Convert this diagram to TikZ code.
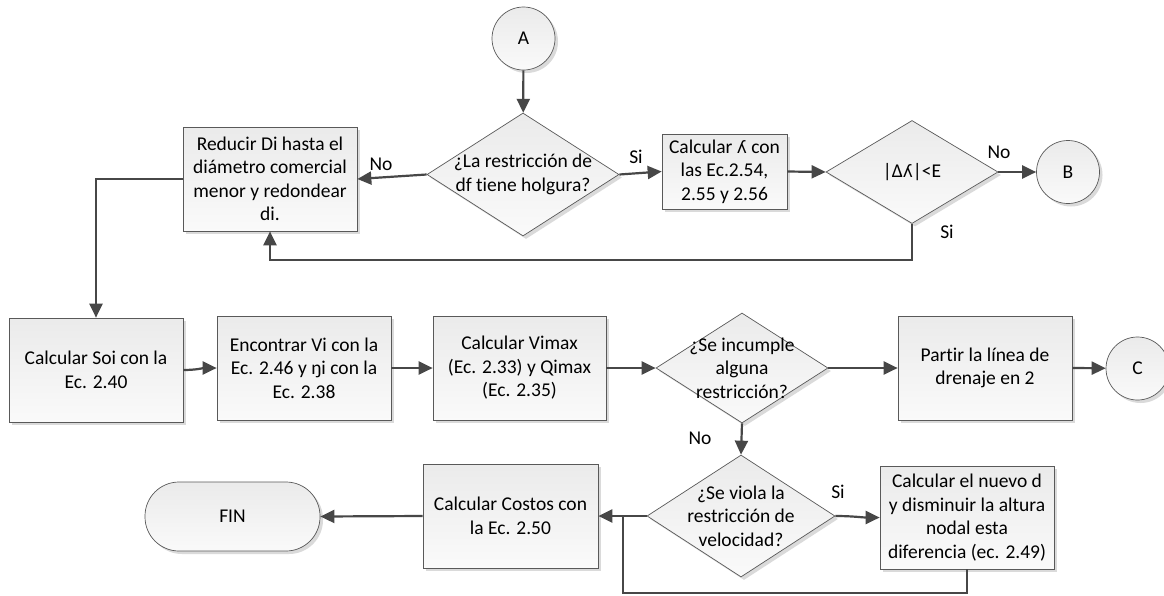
\documentclass[tikz,border=0pt]{standalone}
\usepackage{fontspec}
\setmainfont[Ligatures=NoCommon]{Carlito}
\newfontfamily\ipafont{DejaVu Sans}
\usetikzlibrary{shapes.geometric,arrows.meta,shadows}

\tikzset{
  txt/.style={font=\fontsize{19.5}{23.5}\selectfont, align=center},
  shaded/.style={draw=black!65, line width=0.7pt, top color=black!8, bottom color=black!2,
    drop shadow={shadow xshift=3pt, shadow yshift=-3pt, fill=black!18, opacity=0.8}},
  stepbox/.style={shaded, txt, rectangle, inner sep=2pt},
  decision/.style={shaded, diamond, inner sep=0pt},
  dlabel/.style={txt, inner sep=0pt},
  connector/.style={shaded, circle, txt, minimum size=63pt, inner sep=0pt},
  endcap/.style={shaded, txt, rectangle, rounded corners=34pt, inner sep=0pt},
  flow/.style={draw=black!72, line width=2.2pt, -{Triangle[length=14pt,width=13pt]}},
  plain/.style={draw=black!72, line width=2.2pt},
  yn/.style={txt, inner sep=0pt},
}

\begin{document}
\begin{tikzpicture}[x=1pt,y=-1pt]
\useasboundingbox (0,0) rectangle (1164,595);
\fill[white] (0,0) rectangle (1164,595);

% first row: iteration on the reduced diameter
\node[connector] (A) at (523.5,38.5) {A};
\node[decision, minimum width=192pt, minimum height=123pt,
      label={[dlabel]center:{¿La restricción de\\df tiene holgura?}}] (d1) at (523,174.5) {};
\node[stepbox, minimum width=174pt, minimum height=104pt] (reducir) at (270,179)
  {Reducir Di hasta el\\diámetro comercial\\menor y redondear\\di.};
\node[stepbox, minimum width=125pt, minimum height=75pt] (lam) at (724.5,171.5)
  {Calcular {\ipafont\fontsize{17}{23.5}\selectfont ʎ} con\\las Ec.2.54,\\2.55 y 2.56};
\node[decision, minimum width=172pt, minimum height=103pt,
      label={[dlabel]center:{|Δ{\ipafont\fontsize{17}{23.5}\selectfont ʎ}|<E}}] (d2) at (912,172) {};
\node[connector] (B) at (1068,172) {B};

% second row: hydraulic checks
\node[stepbox, minimum width=174pt, minimum height=104pt] (soi) at (96,370)
  {Calcular Soi con la\\Ec. 2.40};
\node[stepbox, minimum width=174pt, minimum height=104pt] (enc) at (304,368)
  {Encontrar Vi con la\\Ec. 2.46 y ŋi con la\\Ec. 2.38};
\node[stepbox, minimum width=173pt, minimum height=104pt] (vmax) at (519.5,368)
  {Calcular Vimax\\(Ec. 2.33) y Qimax\\(Ec. 2.35)};
\node[decision, minimum width=172pt, minimum height=110pt,
      label={[dlabel]center:{¿Se incumple\\alguna\\restricción?}}] (d3) at (742,368) {};
\node[stepbox, minimum width=174pt, minimum height=104pt] (partir) at (985,368)
  {Partir la línea de\\drenaje en 2};
\node[connector] (C) at (1137.5,368.5) {C};

% third row: velocity check and costs
\node[decision, minimum width=188pt, minimum height=122pt,
      label={[dlabel]center:{¿Se viola la\\restricción de\\velocidad?}}] (d4) at (741,516) {};
\node[stepbox, minimum width=174pt, minimum height=103pt] (nuevo) at (967,517.5)
  {Calcular el nuevo d\\y disminuir la altura\\nodal esta\\diferencia (ec. 2.49)};
\node[stepbox, minimum width=175pt, minimum height=104pt] (costos) at (510.5,516)
  {Calcular Costos con\\la Ec. 2.50};
\node[endcap, minimum width=175pt, minimum height=69pt] (fin) at (232.5,516.5) {FIN};

% decision labels
\node[yn] (n1) at (381,164) {No};
\node[yn] (s1) at (636,157) {Si};
\node[yn] (n2) at (999,152) {No};
\node[yn] (s2) at (947,232) {Si};
\node[yn] (n3) at (700,438) {No};
\node[yn] (s4) at (838,492) {Si};

% connectors
\draw[flow] (A) -- (d1);
\draw[flow] (d1.west) -- (reducir.east);
\draw[flow] (d1.east) -- (lam.west);
\draw[flow] (lam.east) -- (d2.west);
\draw[flow] (d2.east) -- (B);
\draw[flow] (d2.south) -- ++(0,36) -| (reducir.south);
\draw[flow] (reducir.west) -| (soi.north);
\draw[flow] (soi.east) to[out=0,in=180] (enc.west);
\draw[flow] (enc.east) -- (vmax.west);
\draw[flow] (vmax.east) -- (d3.west);
\draw[flow] (d3.east) -- (partir.west);
\draw[flow] (partir.east) -- (C);
\draw[flow] (d3.south) -- (d4.north);
\draw[flow] (d4.east) to[out=0,in=180] (nuevo.west);
\draw[flow] (d4.west) -- (costos.east);
\draw[flow] (costos.west) -- (fin.east);
\coordinate (loopbase) at (623,593);
\draw[plain] (nuevo.south) |- (loopbase) -- (loopbase |- d4.west);
\end{tikzpicture}
\end{document}
